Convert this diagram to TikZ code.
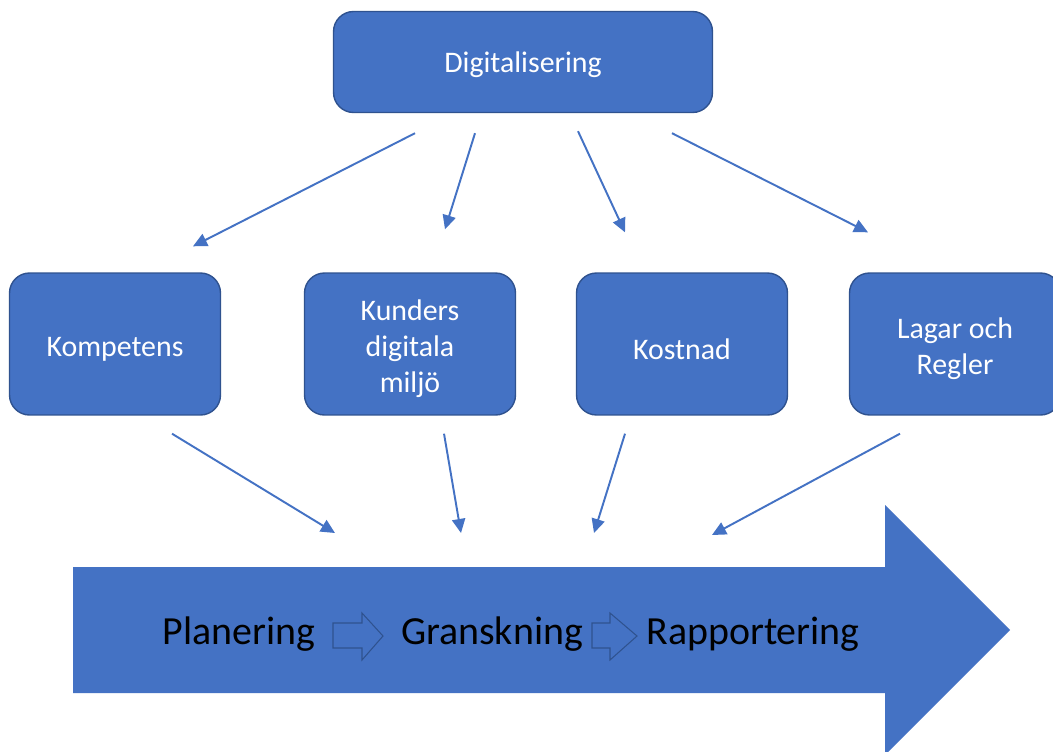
\documentclass[tikz,border=0pt]{standalone}
\usepackage{fontspec}
\setmainfont{Carlito}
\usetikzlibrary{calc,arrows.meta}
\definecolor{officeblue}{HTML}{4472C4}
\definecolor{darkblue}{HTML}{2F528F}
\tikzset{
  box/.style={draw=darkblue, line width=0.8pt, fill=officeblue, rounded corners=0.4cm,
    minimum width=4.22cm, minimum height=2.84cm},
  boxtext/.style={text=white, align=center, yshift=-0.1cm,
    font=\fontsize{17}{20.4}\selectfont},
  conn/.style={draw=officeblue, line width=1.1pt, -{Triangle[length=8pt,width=7.5pt]}},
  phase/.style={text=black, font=\fontsize{22.7}{27}\selectfont},
  hollow/.style={draw=darkblue, line width=0.6pt, fill=officeblue}
}
\begin{document}
\begin{tikzpicture}[x=0.02cm, y=-0.02cm]
\clip (0,0) rectangle (1053,751);
\fill[white] (0,0) rectangle (1053,751);
% the big flow arrow
\fill[officeblue] (73,567) -- (885,567) -- (885,505) -- (1010,630) -- (885,755)
  -- (885,693) -- (73,693) -- cycle;
\coordinate (ftop) at (73,567);
% boxes
\node[box, minimum width=7.58cm, minimum height=2.02cm,
  label={[boxtext, yshift=0.05cm]center:Digitalisering}] (dig) at (523,62) {};
\node[box, label={[boxtext]center:Kompetens}] (komp) at (115,344) {};
\node[box, label={[boxtext]center:{Kunders\\digitala\\miljö}}] (kund) at (410,344) {};
\node[box, label={[boxtext]center:Kostnad}] (kost) at (682,344) {};
\node[box, label={[boxtext]center:{Lagar och\\Regler}}] (lag) at (955,344) {};
% arrows from the top box
\draw[conn] ($(dig.south)+(-108,20)$) -- ($(komp.north)+(78,-26)$);
\draw[conn] ($(dig.south)+(-48,20)$) -- ($(kund.north)+(35,-43)$);
\draw[conn] ($(dig.south)+(55,18)$) -- ($(kost.north)+(-57,-40)$);
\draw[conn] ($(dig.south)+(149,20)$) -- ($(lag.north)+(-87,-40)$);
% arrows down to the flow
\draw[conn] ($(komp.south)+(57,18)$) -- ($(ftop)+(262,-34)$);
\draw[conn] ($(kund.south)+(34,18)$) -- ($(ftop)+(388,-34)$);
\draw[conn] ($(kost.south)+(-57,18)$) -- ($(ftop)+(521,-34)$);
\draw[conn] ($(lag.south)+(-55,18)$) -- ($(ftop)+(639,-32)$);
% phases
\node[phase] (plan) at (239,634) {Planering};
\node[phase] (gran) at (492,634) {Granskning};
\node[phase] (rapp) at (753,634) {Rapportering};
\draw[hollow] (333,623) -- (362,623) -- (362,613) -- (383,636) -- (362,660) -- (362,648)
  -- (333,648) -- cycle;
\draw[hollow] (592,623) -- (610,623) -- (610,613) -- (637,636) -- (610,660) -- (610,648)
  -- (592,648) -- cycle;
\end{tikzpicture}
\end{document}
